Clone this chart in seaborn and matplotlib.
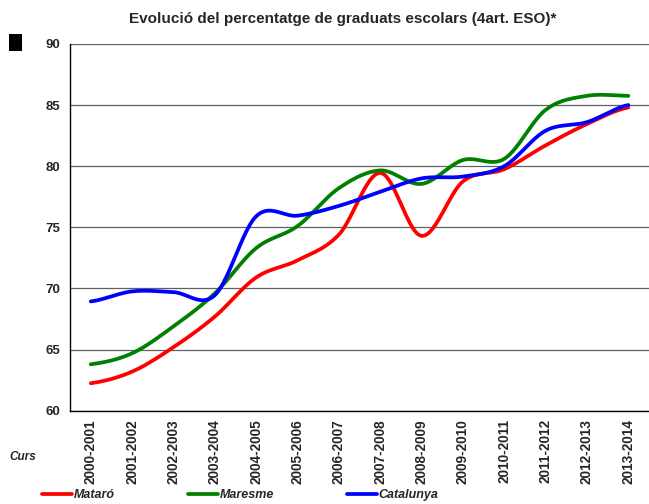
import matplotlib.pyplot as plt
from matplotlib.patches import Rectangle
import numpy as np
import pandas as pd
import seaborn as sns

cursos = [
    "2000-2001", "2001-2002", "2002-2003", "2003-2004", "2004-2005",
    "2005-2006", "2006-2007", "2007-2008", "2008-2009", "2009-2010",
    "2010-2011", "2011-2012", "2012-2013", "2013-2014",
]
mataro = [62.25, 63.2, 65.2, 67.7, 70.9, 72.3, 74.4, 79.45, 74.3, 78.75, 79.75, 81.7, 83.45, 84.8]
maresme = [63.8, 64.7, 66.9, 69.6, 73.3, 75.1, 78.2, 79.65, 78.55, 80.5, 80.6, 84.6, 85.75, 85.75]
catalunya = [68.94, 69.76, 69.7, 69.45, 75.9, 75.95, 76.75, 77.9, 79.0, 79.15, 80.0, 82.9, 83.6, 85.0]

series = {"Mataró": mataro, "Maresme": maresme, "Catalunya": catalunya}
colors = {"Mataró": "#ff0000", "Maresme": "#008000", "Catalunya": "#0000ff"}


def smooth_line(vals, steps=24):
    # excel-like smoothed line (catmull-rom through the points)
    p = np.asarray(vals, dtype=float)
    p = np.concatenate([[p[0]], p, [p[-1]]])
    xs, ys = [], []
    for i in range(1, len(p) - 2):
        p0, p1, p2, p3 = p[i - 1], p[i], p[i + 1], p[i + 2]
        t = np.linspace(0, 1, steps, endpoint=False)
        m1 = (p2 - p0) / 2
        m2 = (p3 - p1) / 2
        h00 = 2 * t**3 - 3 * t**2 + 1
        h10 = t**3 - 2 * t**2 + t
        h01 = -2 * t**3 + 3 * t**2
        h11 = t**3 - t**2
        ys.extend(h00 * p1 + h10 * m1 + h01 * p2 + h11 * m2)
        xs.extend(i - 1 + t)
    xs.append(len(vals) - 1)
    ys.append(vals[-1])
    return np.array(xs), np.array(ys)


frames = []
for name, vals in series.items():
    sx, sy = smooth_line(vals)
    frames.append(pd.DataFrame({"x": sx, "y": sy, "serie": name}))
df = pd.concat(frames, ignore_index=True)

sns.set_style("white")
plt.rcParams["font.family"] = ["Liberation Sans", "DejaVu Sans"]

fig = plt.figure(figsize=(6.49, 5.04), dpi=100)
ax = fig.add_axes([0.108, 0.185, 0.892, 0.728])

sns.lineplot(data=df, x="x", y="y", hue="serie", palette=colors, linewidth=2.7,
             sort=False, estimator=None, ax=ax)

handles, labels = ax.get_legend_handles_labels()
ax.get_legend().remove()

ax.set_ylim(60, 90)
ax.set_xlim(-0.5, len(cursos) - 0.5)
ax.set_yticks(range(60, 91, 5))
ax.set_yticklabels([str(v) for v in range(60, 91, 5)], fontsize=9.5, fontweight="bold")
ax.set_xticks(range(len(cursos)))
ax.set_xticklabels(cursos, rotation=90, fontsize=9.8, fontweight="bold")
ax.set_xticks(np.arange(-0.5, len(cursos), 1), minor=True)
ax.tick_params(axis="x", which="major", length=0, pad=6)
ax.tick_params(axis="x", which="minor", length=4, width=0.8, color="#404040", direction="out")
ax.tick_params(axis="y", length=4, width=0.8, color="#404040", direction="out", pad=3)
ax.set_xlabel("")
ax.set_ylabel("")

ax.grid(axis="y", color="#606060", linewidth=0.9)
ax.set_axisbelow(True)
for s in ["top", "right"]:
    ax.spines[s].set_visible(False)
ax.spines["left"].set_color("#000000")
ax.spines["left"].set_linewidth(1.0)
ax.spines["bottom"].set_color("#000000")
ax.spines["bottom"].set_linewidth(1.0)

fig.text(0.528, 0.962, "Evolució del percentatge de graduats escolars (4art. ESO)*",
         ha="center", va="center", fontsize=11, fontweight="bold")
fig.text(0.015, 0.093, "Curs", ha="left", va="center", fontsize=8.5,
         fontweight="bold", style="italic")
fig.patches.append(Rectangle((0.014, 0.899), 0.020, 0.034, transform=fig.transFigure,
                             facecolor="black", edgecolor="none"))

fig.legend(handles, labels, loc="center left", bbox_to_anchor=(0.048, 0.018), ncol=3,
           frameon=False, handlelength=2.4, handletextpad=0.15, columnspacing=5.8,
           prop={"weight": "bold", "style": "italic", "size": 9})

fig.savefig("out.png", dpi=100)
